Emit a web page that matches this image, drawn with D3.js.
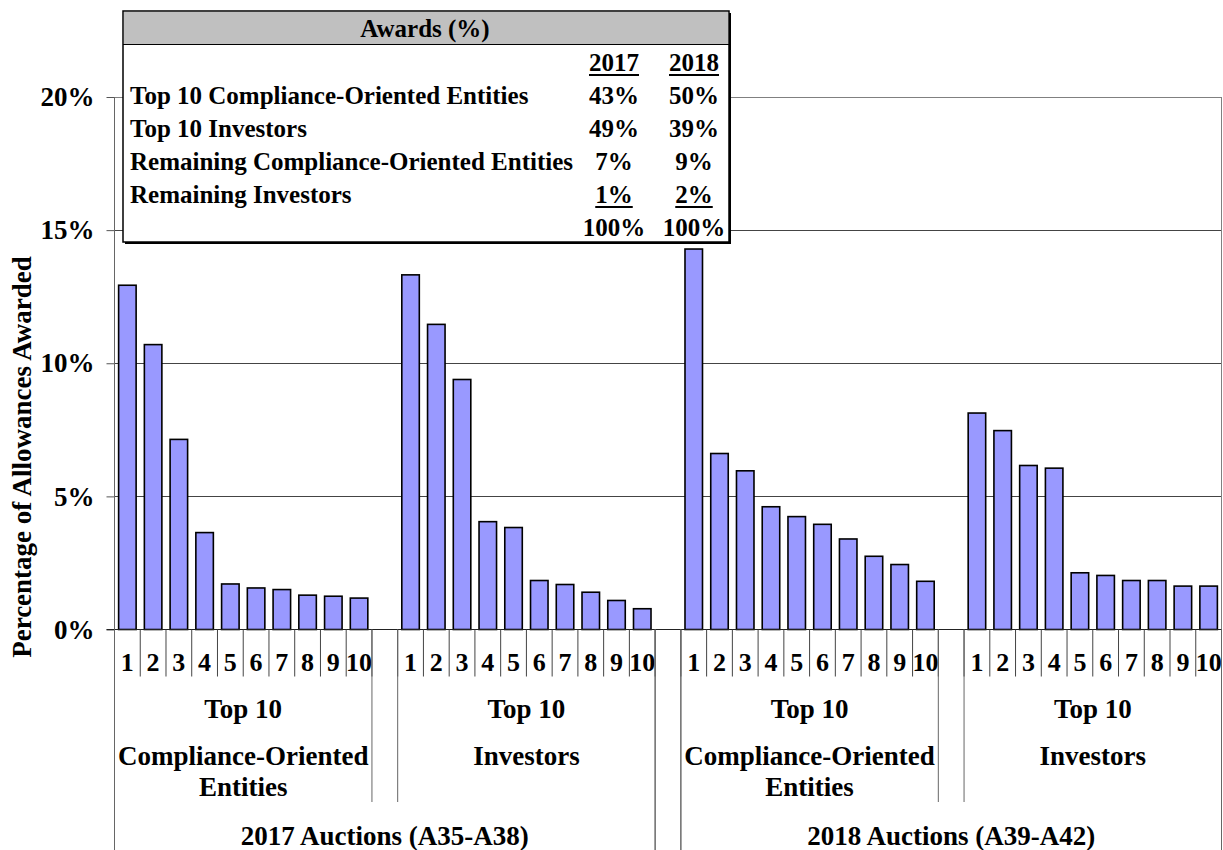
<!DOCTYPE html>
<html>
<head>
<meta charset="utf-8">
<script src="https://cdn.jsdelivr.net/npm/d3@7"></script>
<style>
  body { margin: 0; background: #fff; }
  text { font-family: "Liberation Serif", "Times New Roman", serif; font-weight: bold; fill: #000; }
</style>
</head>
<body>
<div id="container"></div>
<script>
/* CONSTANTS AND GLOBALS */
const width = 1223,
  height = 850,
  margin = {top: 97, bottom: 220, left: 114.5, right: 1.5};

// bar values (% of allowances awarded), ranks 1..10
const compliance2017 = [12.93, 10.70, 7.14, 3.64, 1.71, 1.56, 1.50, 1.29, 1.25, 1.18];
const investors2017  = [13.32, 11.46, 9.39, 4.05, 3.83, 1.84, 1.69, 1.40, 1.09, 0.78];
const compliance2018 = [14.29, 6.61, 5.96, 4.61, 4.24, 3.95, 3.40, 2.75, 2.44, 1.81];
const investors2018  = [8.13, 7.47, 6.16, 6.06, 2.13, 2.03, 1.84, 1.84, 1.63, 1.63];

const rankLabels = ["1", "2", "3", "4", "5", "6", "7", "8", "9", "10"];
const groupLabels = [
  ["Top 10", "Compliance-Oriented", "Entities"],
  ["Top 10", "Investors"],
  ["Top 10", "Compliance-Oriented", "Entities"],
  ["Top 10", "Investors"]
];
const yearLabels = ["2017 Auctions (A35-A38)", "2018 Auctions (A39-A42)"];
const yTicks = [0, 5, 10, 15, 20];

// inset table
const tableTitle = "Awards (%)";
const tableYears = ["2017", "2018"];
const tableRows = ["Top 10 Compliance-Oriented Entities", "Top 10 Investors",
  "Remaining Compliance-Oriented Entities", "Remaining Investors"];
const awards2017 = ["43%", "49%", "7%", "1%"];
const awards2018 = ["50%", "39%", "9%", "2%"];
const totals = ["100%", "100%"];

const series = [compliance2017, investors2017, compliance2018, investors2018];

const FONT = "Liberation Serif";
const AXIS_FS = 27;

let svg, xScale, yScale;

/* INITIALIZING FUNCTION */
function init() {
  // build the 43 slots: 4 groups of 10 with an empty slot between groups
  const keys = [];
  const data = [];
  series.forEach((vals, g) => {
    vals.forEach((v, i) => {
      keys.push(`${g}-${i}`);
      data.push({key: `${g}-${i}`, group: g, rank: rankLabels[i], value: v});
    });
    if (g < series.length - 1) keys.push(`gap${g}`);
  });

  xScale = d3.scaleBand()
    .domain(keys)
    .range([margin.left, width - margin.right])
    .paddingInner(0.32)
    .paddingOuter(0.16);

  yScale = d3.scaleLinear()
    .domain([0, 20])
    .range([height - margin.bottom - 0.5, margin.top]);

  svg = d3.select("#container")
    .append("svg")
    .attr("width", width)
    .attr("height", height)
    .attr("font-family", FONT)
    .attr("font-weight", "bold");

  draw(keys, data);
}

/* DRAW FUNCTION */
function draw(keys, data) {
  const step = xScale.step();
  const x0 = xScale.range()[0];
  const x1 = xScale.range()[1];
  const bound = i => x0 + i * step;   // slot boundary
  const y0 = yScale(0);

  // gridlines
  svg.append("g")
    .selectAll("line")
    .data(yTicks.filter(d => d > 0))
    .join("line")
    .attr("x1", x0).attr("x2", x1)
    .attr("y1", d => Math.round(yScale(d)) + 0.5)
    .attr("y2", d => Math.round(yScale(d)) + 0.5)
    .attr("stroke", d => d === 20 ? "#808080" : "#444")
    .attr("stroke-width", 1);

  // right border of plot
  svg.append("line")
    .attr("x1", x1).attr("x2", x1)
    .attr("y1", yScale(20)).attr("y2", height)
    .attr("stroke", "#808080");

  // bars
  svg.selectAll("rect.bar")
    .data(data)
    .join("rect")
    .attr("class", "bar")
    .attr("x", d => xScale(d.key))
    .attr("width", xScale.bandwidth())
    .attr("y", d => yScale(d.value))
    .attr("height", d => y0 - yScale(d.value))
    .attr("fill", "#9999ff")
    .attr("stroke", "#000")
    .attr("stroke-width", 1.6);

  // y axis
  const yAxis = d3.axisLeft(yScale)
    .tickValues(yTicks)
    .tickFormat(d => d + "%")
    .tickSize(8)
    .tickPadding(12);

  const yAxisGroup = svg.append("g")
    .attr("class", "yAxis")
    .attr("transform", `translate(${x0},0)`)
    .call(yAxis);
  yAxisGroup.select(".domain").remove();
  yAxisGroup.selectAll(".tick line").attr("stroke", "#555");
  yAxisGroup.selectAll("text")
    .attr("font-size", AXIS_FS)
    .attr("font-family", FONT)
    .attr("font-weight", "bold")
    .attr("fill", "#000");

  // y axis line continues down as the left separator
  svg.append("line")
    .attr("x1", x0).attr("x2", x0)
    .attr("y1", yScale(20)).attr("y2", height)
    .attr("stroke", "#666");

  // x axis baseline
  svg.append("line")
    .attr("x1", x0 - 8).attr("x2", x1)
    .attr("y1", y0).attr("y2", y0)
    .attr("stroke", "#222");

  // y axis title
  svg.append("text")
    .attr("transform", `translate(31,${457}) rotate(-90)`)
    .attr("text-anchor", "middle")
    .attr("font-size", AXIS_FS)
    .text("Percentage of Allowances Awarded");

  // level 1: rank numbers and their separators
  svg.append("g")
    .selectAll("line")
    .data(d3.range(keys.length + 1))
    .join("line")
    .attr("x1", i => bound(i)).attr("x2", i => bound(i))
    .attr("y1", y0).attr("y2", y0 + 47)
    .attr("stroke", "#444");

  svg.append("g")
    .selectAll("text")
    .data(data)
    .join("text")
    .attr("x", d => xScale(d.key) + xScale.bandwidth() / 2)
    .attr("y", y0 + 41)
    .attr("text-anchor", "middle")
    .attr("font-size", 26)
    .text(d => d.rank);

  // level 2: group separators and labels
  const yearBounds = [0, 21, 22, keys.length];
  const groupBounds = [];
  groupLabels.forEach((g, gi) => {
    groupBounds.push(gi * 11, gi * 11 + 10);
  });
  svg.append("g")
    .selectAll("line")
    .data(groupBounds)
    .join("line")
    .attr("x1", i => bound(i)).attr("x2", i => bound(i))
    .attr("y1", y0)
    .attr("y2", i => yearBounds.includes(i) ? height : 802)
    .attr("stroke", "#666");

  svg.append("g")
    .selectAll("line")
    .data(yearBounds)
    .join("line")
    .attr("x1", i => bound(i)).attr("x2", i => bound(i))
    .attr("y1", y0).attr("y2", height)
    .attr("stroke", "#666");

  const lineY = [718, 765, 796];
  groupLabels.forEach((lines, gi) => {
    const cx = (bound(gi * 11) + bound(gi * 11 + 10)) / 2;
    svg.append("g")
      .selectAll("text")
      .data(lines)
      .join("text")
      .attr("x", cx)
      .attr("y", (d, i) => lineY[i])
      .attr("text-anchor", "middle")
      .attr("font-size", AXIS_FS)
      .text(d => d);
  });

  // level 3: auction years
  svg.append("g")
    .selectAll("text")
    .data(yearLabels)
    .join("text")
    .attr("x", (d, i) => (bound(yearBounds[i * 2]) + bound(yearBounds[i * 2 + 1])) / 2)
    .attr("y", 845)
    .attr("text-anchor", "middle")
    .attr("font-size", AXIS_FS)
    .text(d => d);

  drawTable();
}

/* INSET TABLE */
function drawTable() {
  const tx = 123, ty = 11, tw = 606, th = 231;
  const fs = 25;
  const col = [614, 694];
  const rowY = [104, 137, 170, 203];
  const t = svg.append("g").attr("class", "table");

  // shadow then box
  t.append("rect")
    .attr("x", tx + 2).attr("y", ty + 2)
    .attr("width", tw).attr("height", th)
    .attr("fill", "#000");
  t.append("rect")
    .attr("x", tx).attr("y", ty)
    .attr("width", tw).attr("height", th)
    .attr("fill", "#fff")
    .attr("stroke", "#000")
    .attr("stroke-width", 1.5);
  t.append("rect")
    .attr("x", tx + 1).attr("y", ty + 1)
    .attr("width", tw - 2).attr("height", 32)
    .attr("fill", "#c0c0c0");
  t.append("line")
    .attr("x1", tx).attr("x2", tx + tw)
    .attr("y1", ty + 33.5).attr("y2", ty + 33.5)
    .attr("stroke", "#000");

  t.append("text")
    .attr("x", tx + tw / 2 - 1)
    .attr("y", 37)
    .attr("text-anchor", "middle")
    .attr("font-size", fs)
    .text(tableTitle);

  const cell = (txt, x, y, underline) => {
    const el = t.append("text")
      .attr("x", x).attr("y", y)
      .attr("text-anchor", "middle")
      .attr("font-size", fs)
      .text(txt);
    if (underline) {
      const w = el.node().getComputedTextLength();
      t.append("rect")
        .attr("x", x - w / 2).attr("y", y + 3)
        .attr("width", w).attr("height", 2)
        .attr("fill", "#000");
    }
  };

  tableYears.forEach((yr, i) => cell(yr, col[i], 71, true));

  t.selectAll("text.rowlabel")
    .data(tableRows)
    .join("text")
    .attr("class", "rowlabel")
    .attr("x", 130)
    .attr("y", (d, i) => rowY[i])
    .attr("font-size", fs)
    .text(d => d);

  awards2017.forEach((v, i) => cell(v, col[0], rowY[i], i === awards2017.length - 1));
  awards2018.forEach((v, i) => cell(v, col[1], rowY[i], i === awards2018.length - 1));
  totals.forEach((v, i) => cell(v, col[i], 236, false));
}

init();
</script>
</body>
</html>
